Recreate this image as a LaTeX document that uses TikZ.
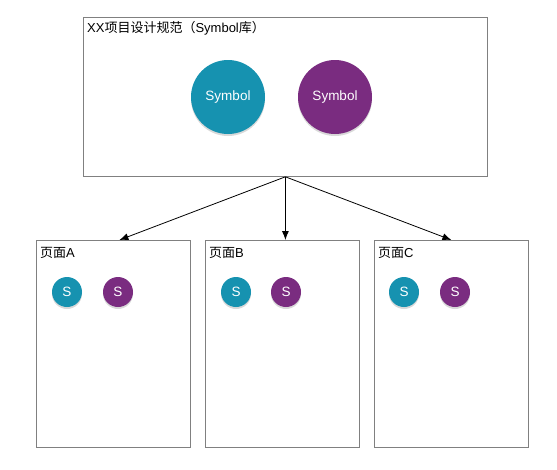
\documentclass[tikz,border=0pt]{standalone}
\usepackage{fontspec}
\setmainfont{Liberation Sans}
\newfontfamily\cjk{Noto Sans CJK SC}
\usetikzlibrary{arrows.meta,shadows}
\definecolor{symteal}{RGB}{22,146,176}
\definecolor{sympurple}{RGB}{122,44,128}
\definecolor{framegray}{RGB}{128,128,128}

\begin{document}
\begin{tikzpicture}[x=1pt,y=-1pt,>={Latex[length=9pt,width=7pt]},
    frame/.style={draw=framegray,line width=0.8pt,anchor=north west,inner sep=0pt},
    title/.style={anchor=north west,inner sep=1pt,font=\fontsize{13}{15}\selectfont},
    big sym/.style={circle,fill=#1,text=white,minimum size=74pt,inner sep=0pt,
        font=\fontsize{13.5}{15}\selectfont,
        drop shadow={opacity=0.3,shadow xshift=0pt,shadow yshift=-2pt}},
    small sym/.style={circle,fill=#1,text=white,minimum size=30pt,inner sep=0pt,
        font=\fontsize{13.5}{15}\selectfont,
        drop shadow={opacity=0.3,shadow xshift=0pt,shadow yshift=-2pt}}]
    \useasboundingbox (0,0) rectangle (557,469);
    % symbol library
    \node[frame,minimum width=404pt,minimum height=159pt] (lib) at (83,17) {};
    \node[title] (libtitle) at (86,20) {XX{\cjk 项目设计规范（}Symbol{\cjk 库）}};
    \node[big sym=symteal] (symA) at (228,97) {Symbol};
    \node[big sym=sympurple] (symB) at (335,97) {Symbol};
    % pages
    \node[frame,minimum width=154pt,minimum height=207pt] (pageA) at (36,240) {};
    \node[frame,minimum width=154pt,minimum height=207pt] (pageB) at (205,240) {};
    \node[frame,minimum width=154pt,minimum height=207pt] (pageC) at (374,240) {};
    \node[title] (titleA) at (39,246) {{\cjk 页面}A};
    \node[title] (titleB) at (208,246) {{\cjk 页面}B};
    \node[title] (titleC) at (377,246) {{\cjk 页面}C};
    \node[small sym=symteal] (sA1) at (67,292) {S};
    \node[small sym=sympurple] (sA2) at (118,292) {S};
    \node[small sym=symteal] (sB1) at (236,292) {S};
    \node[small sym=sympurple] (sB2) at (286,292) {S};
    \node[small sym=symteal] (sC1) at (404,292) {S};
    \node[small sym=sympurple] (sC2) at (455,292) {S};
    \coordinate (endA) at ([xshift=6pt]pageA.north);
    \coordinate (endB) at (lib.south |- pageB.north);
    \path[->,line width=0.8pt]
    (lib.south) edge (endA)
    edge (endB)
    edge (pageC.north);
\end{tikzpicture}
\end{document}
